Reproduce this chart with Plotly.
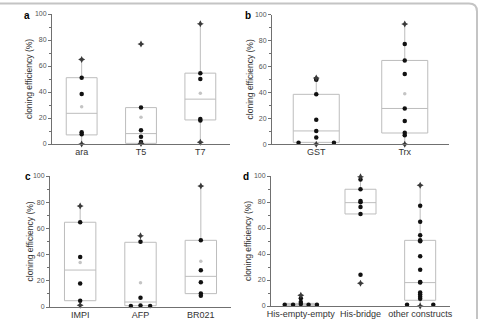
import plotly.graph_objects as go

# ---------------- data ----------------
cats_a = ["ara", "T5", "T7"]
q1_a = [7, 0.5, 18.5]
med_a = [23.6, 8, 34.5]
q3_a = [51, 28, 54.5]
lo_a = [0, 0.5, 1.3]
hi_a = [65, 28, 92.5]
mean_a = [28.7, 20.5, 39]
pts_a = [[51, 38.5, 9, 7.5], [28, 10.5, 5.5, 1.5], [54.5, 50, 19.2, 18]]
off_a = [[0, 0, 0, 0], [0, 0, 0, 0], [0, 0, 0, 0]]
ext_a = [[65, 0], [77, 0.3], [92.5, 1.3]]

cats_b = ["GST", "Trx"]
q1_b = [1.5, 8.7]
med_b = [10.3, 27.6]
q3_b = [38.5, 64.6]
lo_b = [0, 0]
hi_b = [50.5, 92.6]
mean_b = [None, 38.9]
pts_b = [[50.5, 49.8, 38.5, 19, 10.3, 5.3, 1.2, 1.2], [77.2, 64.6, 54.2, 27.6, 18, 8.9, 7]]
off_b = [[0, 0, 0, 0, 0, 0, -0.2, 0.2], [0, 0, 0, 0, 0, 0, 0]]
ext_b = [[51, 0], [92.6, 0]]

cats_c = ["IMPI", "AFP", "BR021"]
q1_c = [4.8, 1, 10.2]
med_c = [28.2, 3.8, 23.4]
q3_c = [64.7, 49.4, 50.9]
lo_c = [1.3, 1, 8.4]
hi_c = [77.1, 54.4, 92.4]
mean_c = [34, 18.6, 34.9]
pts_c = [[64.7, 38.2, 18, 4.8], [49.8, 7.1, 0.8, 1.2, 0.8], [50.9, 28, 18.8, 10.4, 8.6]]
off_c = [[0, 0, 0, 0], [0, 0, -0.16, 0, 0.16], [0, 0, 0, 0, 0]]
ext_c = [[77.1, 1.3], [54.4], [92.4]]

cats_d = ["His-empty-empty", "His-bridge", "other constructs"]
q1_d = [0.5, 70.8, 4.4]
med_d = [1, 79.5, 18]
q3_d = [2, 89.8, 50.5]
lo_d = [0.5, 70.8, 0]
hi_d = [8.3, 99, 92.8]
mean_d = [None, None, None]
pts_d = [[6, 3, 1.5, 1, 1, 1, 1],
         [97.4, 89.8, 80.8, 79.8, 76.2, 70.8, 24.1],
         [77.2, 64.9, 54.4, 50.5, 49.8, 38.2, 27.9, 18.5, 18, 10.3, 8.8, 7.2, 5.5, 1, 1]]
off_d = [[0, 0, 0, -0.27, -0.13, 0.13, 0.27],
         [0, 0, 0, 0, 0, 0, 0],
         [0] * 13 + [-0.22, 0.22]]
ext_d = [[8.3], [99.5, 17.5], [92.8, 0]]

y_title = "cloning efficiency (%)"

panels = [
    dict(label="a", cats=cats_a, q1=q1_a, med=med_a, q3=q3_a, lo=lo_a, hi=hi_a, mean=mean_a, pts=pts_a, off=off_a, ext=ext_a,
         xd=[52, 230], yd=[14, 144], lab=(27, 15), tx=29),
    dict(label="b", cats=cats_b, q1=q1_b, med=med_b, q3=q3_b, lo=lo_b, hi=hi_b, mean=mean_b, pts=pts_b, off=off_b, ext=ext_b,
         xd=[272, 449], yd=[14.5, 144.3], lab=(248, 15), tx=250),
    dict(label="c", cats=cats_c, q1=q1_c, med=med_c, q3=q3_c, lo=lo_c, hi=hi_c, mean=mean_c, pts=pts_c, off=off_c, ext=ext_c,
         xd=[50, 231], yd=[176, 307], lab=(28, 176), tx=29),
    dict(label="d", cats=cats_d, q1=q1_d, med=med_d, q3=q3_d, lo=lo_d, hi=hi_d, mean=mean_d, pts=pts_d, off=off_d, ext=ext_d,
         xd=[271, 450], yd=[176, 306], lab=(246, 176), tx=248),
]

W, H = 480, 319
FONT = "Arial, Liberation Sans"
fig = go.Figure()
layout = {}
annotations = []

for i, p in enumerate(panels):
    sfx = "" if i == 0 else str(i + 1)
    xa, ya = "x" + sfx, "y" + sfx
    n = len(p["cats"])
    idx = list(range(n))
    fig.add_trace(go.Box(
        x=idx, q1=p["q1"], median=p["med"], q3=p["q3"],
        lowerfence=p["lo"], upperfence=p["hi"],
        width=0.52, whiskerwidth=0, boxpoints=False,
        line=dict(color="#bdbdbd", width=1), fillcolor="rgba(255,255,255,0)",
        xaxis=xa, yaxis=ya, hoverinfo="skip", showlegend=False))
    mx = [j for j in idx if p["mean"][j] is not None]
    my = [p["mean"][j] for j in mx]
    fig.add_trace(go.Scatter(x=mx, y=my, mode="markers", xaxis=xa, yaxis=ya,
                             marker=dict(color="#c4c4c4", size=3.5), showlegend=False, cliponaxis=False))
    px, py = [], []
    for j in idx:
        for v, o in zip(p["pts"][j], p["off"][j]):
            px.append(j + o)
            py.append(v)
    fig.add_trace(go.Scatter(x=px, y=py, mode="markers", xaxis=xa, yaxis=ya,
                             marker=dict(color="#111111", size=4.5), showlegend=False, cliponaxis=False))
    ex, ey = [], []
    for j in idx:
        for v in p["ext"][j]:
            ex.append(j)
            ey.append(v)
    fig.add_trace(go.Scatter(x=ex, y=ey, mode="markers", xaxis=xa, yaxis=ya,
                             marker=dict(color="#3a3a3a", size=5, symbol="star-diamond"),
                             showlegend=False, cliponaxis=False))

    layout["xaxis" + sfx] = dict(
        domain=[p["xd"][0] / W, p["xd"][1] / W], anchor=ya, automargin=False,
        range=[-0.5, n - 0.5], tickvals=idx, ticktext=p["cats"], tickangle=0,
        showline=True, linecolor="#707070", linewidth=1, ticks="",
        ticklabelstandoff=-1,
        showgrid=False, zeroline=False,
        tickfont=dict(size=9, color="#333333", family=FONT))
    layout["yaxis" + sfx] = dict(
        domain=[1 - p["yd"][1] / H, 1 - p["yd"][0] / H], anchor=xa, automargin=False,
        range=[0, 100], dtick=20, tick0=0,
        showline=True, linecolor="#707070", linewidth=1,
        ticks="outside", ticklen=3, tickcolor="#707070",
        minor=dict(dtick=10, ticks="outside", ticklen=2, tickcolor="#707070"),
        showgrid=False, zeroline=False,
        tickfont=dict(size=7, color="#555555", family=FONT))
    annotations.append(dict(text="<b>%s</b>" % p["label"], x=p["lab"][0] / W, y=1 - p["lab"][1] / H,
                            xref="paper", yref="paper", showarrow=False,
                            font=dict(size=10, color="#000000", family=FONT),
                            xanchor="center", yanchor="middle"))
    yc = 1 - (p["yd"][0] + p["yd"][1]) / 2 / H
    annotations.append(dict(text=y_title, x=p["tx"] / W, y=yc, xref="paper", yref="paper",
                            showarrow=False, textangle=-90, xanchor="center", yanchor="middle",
                            font=dict(size=8.5, color="#333333", family=FONT)))

t = 1 - 3.5 / H
r = 477 / W
border = dict(type="path", xref="paper", yref="paper",
              path=f"M -0.02 {t} L {469 / W} {t} Q {r} {t} {r} {1 - 11.5 / H} L {r} -0.05",
              line=dict(color="#c4c4c4", width=2))

fig.update_layout(
    width=W, height=H, margin=dict(l=0, r=0, t=0, b=0),
    paper_bgcolor="white", plot_bgcolor="white",
    annotations=annotations, shapes=[border], **layout)

fig.write_html("out.html")
